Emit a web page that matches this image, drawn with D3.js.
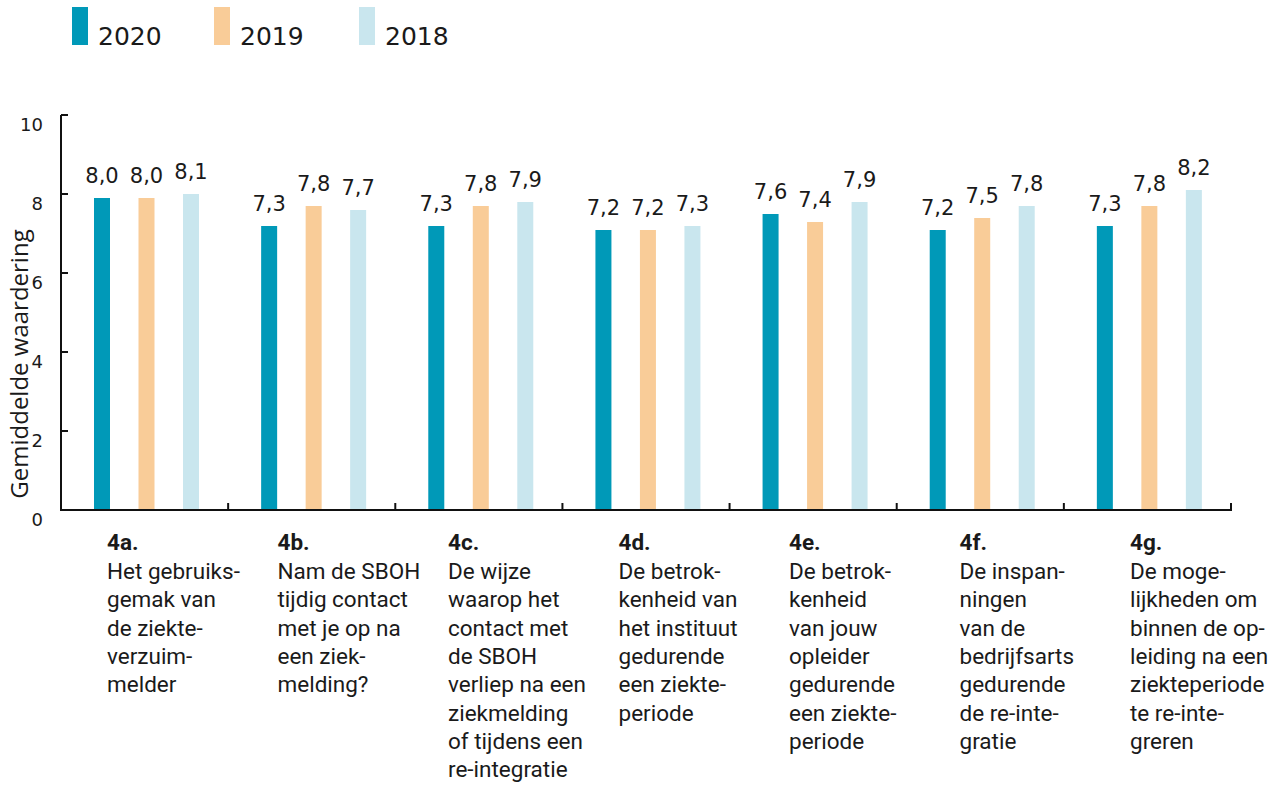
<!DOCTYPE html>
<html>
<head>
<meta charset="utf-8">
<script src="https://d3js.org/d3.v7.min.js"></script>
<style>
  body { margin: 0; background: #fff; }
  text { fill: #1a1a1a; }
  .num { font-family: "DejaVu Sans", sans-serif; }
  .cat { font-family: Roboto, sans-serif; font-size: 22.5px; }
  .axis-line { stroke: #111; stroke-width: 2; fill: none; }
</style>
</head>
<body>
<svg width="1281" height="787"></svg>
<script>
var categories = ["4a.", "4b.", "4c.", "4d.", "4e.", "4f.", "4g."];
var years = ["2020", "2019", "2018"];
var colors = ["#0099b8", "#f9cc98", "#c9e6ee"];
var values2020 = [8.0, 7.3, 7.3, 7.2, 7.6, 7.2, 7.3];
var values2019 = [8.0, 7.8, 7.8, 7.2, 7.4, 7.5, 7.8];
var values2018 = [8.1, 7.7, 7.9, 7.3, 7.9, 7.8, 8.2];
var yTicks = [0, 2, 4, 6, 8, 10];
var catLines = [
  ["Het gebruiks-", "gemak van", "de ziekte-", "verzuim-", "melder"],
  ["Nam de SBOH", "tijdig contact", "met je op na", "een ziek-", "melding?"],
  ["De wijze", "waarop het", "contact met", "de SBOH", "verliep na een", "ziekmelding", "of tijdens een", "re-integratie"],
  ["De betrok-", "kenheid van", "het instituut", "gedurende", "een ziekte-", "periode"],
  ["De betrok-", "kenheid", "van jouw", "opleider", "gedurende", "een ziekte-", "periode"],
  ["De inspan-", "ningen", "van de", "bedrijfsarts", "gedurende", "de re-inte-", "gratie"],
  ["De moge-", "lijkheden om", "binnen de op-", "leiding na een", "ziekteperiode", "te re-inte-", "greren"]
];
var series = [values2020, values2019, values2018];

var svg = d3.select("svg");

var x = d3.scaleBand().domain(categories).range([61, 1231]);
var xi = d3.scalePoint().domain(years).range([41, 130]);
var y = d3.scaleLinear().domain([0, 10]).range([510, 115]);
// bars sit a little lower than the axis ticks in the original
var yBar = d3.scaleLinear().domain([0, 10]).range([518, 118]);
var labelX = d3.scalePoint().domain(categories).range([107, 1130]);
var barW = 16;

// legend
var legend = svg.append("g").selectAll("g")
  .data(years).enter().append("g")
  .attr("transform", function(d, i) { return "translate(" + [72, 214, 359][i] + ",0)"; });
legend.append("rect")
  .attr("x", 0).attr("y", 7).attr("width", 16).attr("height", 38)
  .attr("fill", function(d, i) { return colors[i]; });
legend.append("text")
  .attr("class", "num")
  .attr("x", 26).attr("y", 45)
  .style("font-size", "25px")
  .text(function(d) { return d; });

// bars
categories.forEach(function(c, ci) {
  years.forEach(function(yr, si) {
    var v = series[si][ci];
    var cx = x(c) + xi(yr);
    svg.append("rect")
      .attr("x", cx - barW / 2)
      .attr("y", yBar(v))
      .attr("width", barW)
      .attr("height", y(0) - yBar(v))
      .attr("fill", colors[si]);
    svg.append("text")
      .attr("class", "num")
      .attr("x", cx)
      .attr("y", yBar(v) - 15)
      .attr("text-anchor", "middle")
      .style("font-size", "21px")
      .text(d3.format(".1f")(v).replace(".", ","));
  });
});

// y axis
svg.append("line").attr("class", "axis-line")
  .attr("x1", 61).attr("x2", 61).attr("y1", y(10)).attr("y2", y(0) + 1);
svg.selectAll(".ytick").data(yTicks).enter().append("line")
  .attr("class", "axis-line")
  .attr("x1", 61).attr("x2", 68)
  .attr("y1", function(d) { return y(d); })
  .attr("y2", function(d) { return y(d); });
svg.selectAll(".ylab").data(yTicks).enter().append("text")
  .attr("class", "num")
  .attr("x", 43)
  .attr("y", function(d) { return y(d) + 16; })
  .attr("text-anchor", "end")
  .style("font-size", "18px")
  .text(function(d) { return d; });

svg.append("text")
  .attr("transform", "translate(28,364) rotate(-90)")
  .attr("text-anchor", "middle")
  .style("font-family", "'Open Sans', sans-serif")
  .style("font-size", "24px")
  .text("Gemiddelde waardering");

// x axis
svg.append("line").attr("class", "axis-line")
  .attr("x1", 60).attr("x2", 1232).attr("y1", y(0)).attr("y2", y(0));
var bounds = categories.map(function(c) { return x(c) + x.bandwidth(); });
svg.selectAll(".xtick").data(bounds).enter().append("line")
  .attr("class", "axis-line")
  .attr("x1", function(d) { return d; })
  .attr("x2", function(d) { return d; })
  .attr("y1", y(0)).attr("y2", y(0) - 7);

// category labels
categories.forEach(function(c, ci) {
  var t = svg.append("text").attr("class", "cat")
    .attr("x", labelX(c)).attr("y", 550);
  t.append("tspan").attr("x", labelX(c)).style("font-weight", "bold").text(c);
  catLines[ci].forEach(function(line, li) {
    t.append("tspan").attr("x", labelX(c)).attr("y", 579 + li * 28.3).text(line);
  });
});
</script>
</body>
</html>
